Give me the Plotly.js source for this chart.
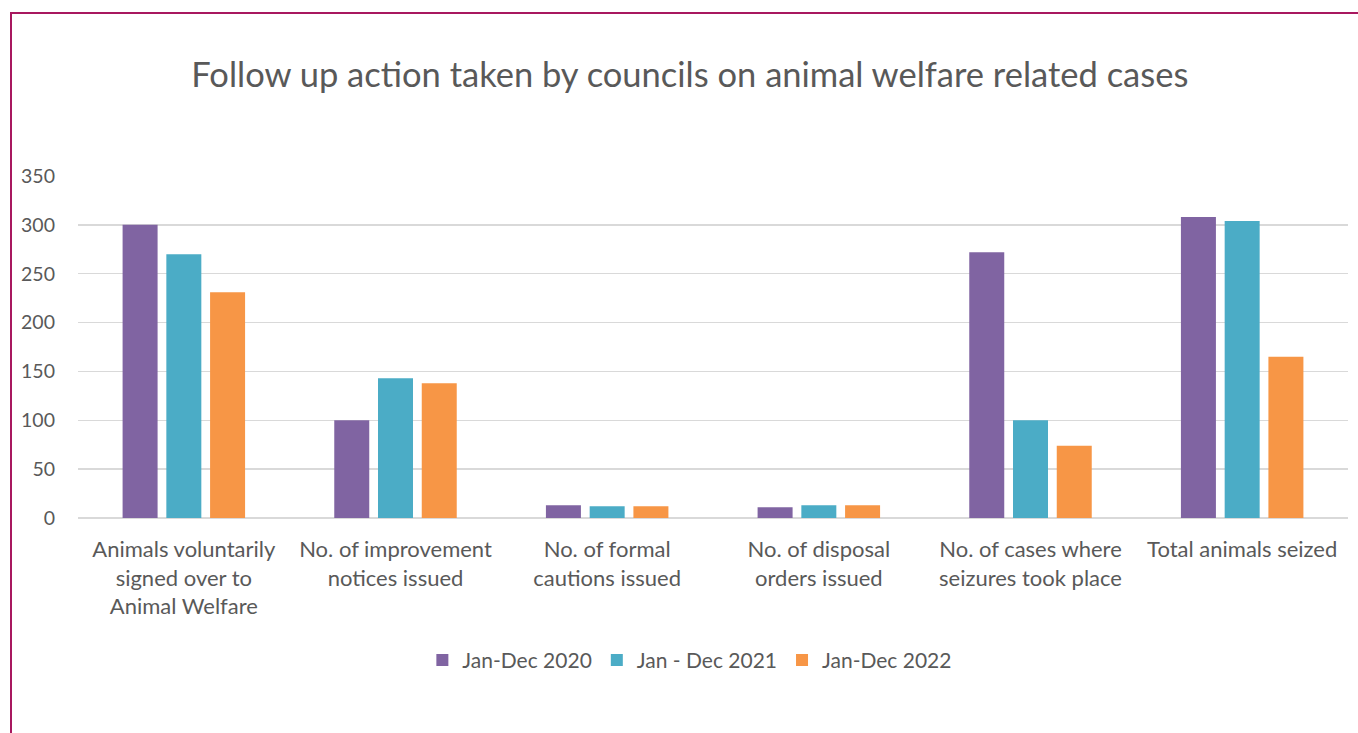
<!DOCTYPE html>
<html>
<head>
<meta charset="utf-8">
<script src="https://cdn.plot.ly/plotly-3.0.1.min.js"></script>
<style>
  html, body { margin: 0; padding: 0; background: #ffffff; overflow: hidden; }
  #chart { position: absolute; left: 0; top: 0; width: 1358px; height: 733px; }
  #frame { position: absolute; left: 10px; top: 12px; width: 1400px; height: 800px;
           border-left: 2.5px solid #a8185f; border-top: 2.5px solid #a8185f; pointer-events: none; }
</style>
</head>
<body>
<div id="chart"></div>
<div id="frame"></div>
<script>
const categories = [
  "Animals voluntarily<br>signed over to<br>Animal Welfare",
  "No. of improvement<br>notices issued",
  "No. of formal<br>cautions issued",
  "No. of disposal<br>orders issued",
  "No. of cases where<br>seizures took place",
  "Total animals seized"
];
const seriesNames = ["Jan-Dec 2020", "Jan - Dec 2021", "Jan-Dec 2022"];
const values2020 = [300, 100, 13, 11, 272, 308];
const values2021 = [270, 143, 12, 13, 100, 304];
const values2022 = [231, 138, 12, 13, 74, 165];
const seriesColors = ["#8064a2", "#4bacc6", "#f79646"];
const yTicks = [0, 50, 100, 150, 200, 250, 300, 350];

const allValues = [values2020, values2021, values2022];
const traces = allValues.map((vals, i) => ({
  type: "bar",
  name: seriesNames[i],
  x: categories,
  y: vals,
  marker: { color: seriesColors[i], line: { width: 0 } },
  hoverinfo: "x+y+name"
}));

const font = "Lato, 'Open Sans', 'Liberation Sans', sans-serif";
const layout = {
  width: 1358,
  height: 733,
  margin: { l: 78, r: 10, t: 176, b: 215 },
  paper_bgcolor: "#ffffff",
  plot_bgcolor: "#ffffff",
  font: { family: font, color: "#595959", size: 19 },
  title: {
    text: "Follow up action taken by councils on animal welfare related cases",
    font: { family: font, size: 34.5, color: "#595959" },
    x: 0.508, xref: "container", xanchor: "center",
    y: 0.898, yref: "container", yanchor: "middle"
  },
  barmode: "group",
  bargap: 0.38,
  bargroupgap: 0.2,
  xaxis: {
    tickfont: { family: font, size: 22, color: "#595959" },
    showgrid: false,
    showline: false,
    ticks: "",
    ticklabelstandoff: 16,
    tickangle: 0
  },
  yaxis: {
    range: [0, 350],
    tickvals: yTicks,
    ticktext: yTicks.map(String),
    tickfont: { family: font, size: 19.5, color: "#595959" },
    showgrid: true,
    gridcolor: "#d9d9d9",
    gridwidth: 1.5,
    zeroline: true,
    zerolinecolor: "#d9d9d9",
    zerolinewidth: 1.5,
    showline: false,
    ticks: "",
    ticklabelstandoff: 22
  },
  showlegend: true,
  legend: {
    orientation: "h",
    x: 0.508, xref: "container", xanchor: "center",
    y: 0.099, yref: "container", yanchor: "middle",
    font: { family: font, size: 21, color: "#595959" },
    itemwidth: 30,
    tracegroupgap: 0
  }
};

Plotly.newPlot("chart", traces, layout, { displayModeBar: false, staticPlot: true });
</script>
</body>
</html>
